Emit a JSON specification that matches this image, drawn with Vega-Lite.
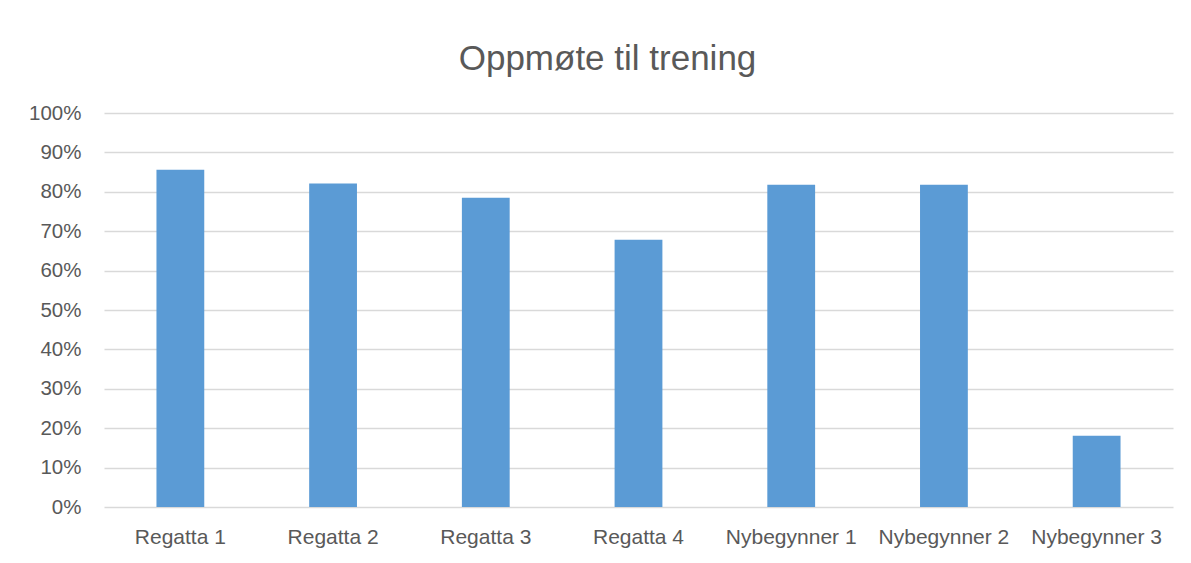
{
  "$schema": "https://vega.github.io/schema/vega-lite/v6.json",
  "width": 1069,
  "height": 394,
  "autosize": {"type": "none"},
  "padding": {"left": 104, "top": 113, "right": 18, "bottom": 56},
  "background": "white",
  "title": {
    "text": "Oppmøte til trening",
    "fontSize": 35,
    "font": "Liberation Sans",
    "fontWeight": "normal",
    "color": "#595959",
    "anchor": "middle",
    "dx": -31,
    "dy": 42,
    "baseline": "alphabetic",
    "offset": 40
  },
  "data": {
    "values": [
      {"gruppe": "Regatta 1", "oppmote": 0.856},
      {"gruppe": "Regatta 2", "oppmote": 0.821},
      {"gruppe": "Regatta 3", "oppmote": 0.785},
      {"gruppe": "Regatta 4", "oppmote": 0.678},
      {"gruppe": "Nybegynner 1", "oppmote": 0.818},
      {"gruppe": "Nybegynner 2", "oppmote": 0.818},
      {"gruppe": "Nybegynner 3", "oppmote": 0.181}
    ]
  },
  "mark": {"type": "bar", "color": "#5B9BD5"},
  "encoding": {
    "x": {
      "field": "gruppe",
      "type": "nominal",
      "sort": null,
      "title": null,
      "scale": {"paddingInner": 0.687, "paddingOuter": 0.3435},
      "axis": {
        "labelAngle": 0,
        "ticks": false,
        "domain": false,
        "labelFont": "Liberation Sans",
        "labelFontSize": 21,
        "labelColor": "#595959",
        "labelPadding": 19
      }
    },
    "y": {
      "field": "oppmote",
      "type": "quantitative",
      "title": null,
      "scale": {"domain": [0, 1]},
      "axis": {
        "format": ".0%",
        "values": [0, 0.1, 0.2, 0.3, 0.4, 0.5, 0.6, 0.7, 0.8, 0.9, 1],
        "ticks": false,
        "domain": false,
        "grid": true,
        "gridColor": "#D9D9D9",
        "gridWidth": 1.3,
        "labelFont": "Liberation Sans",
        "labelFontSize": 20.5,
        "labelColor": "#595959",
        "labelPadding": 23
      }
    }
  },
  "config": {"view": {"stroke": null}}
}
